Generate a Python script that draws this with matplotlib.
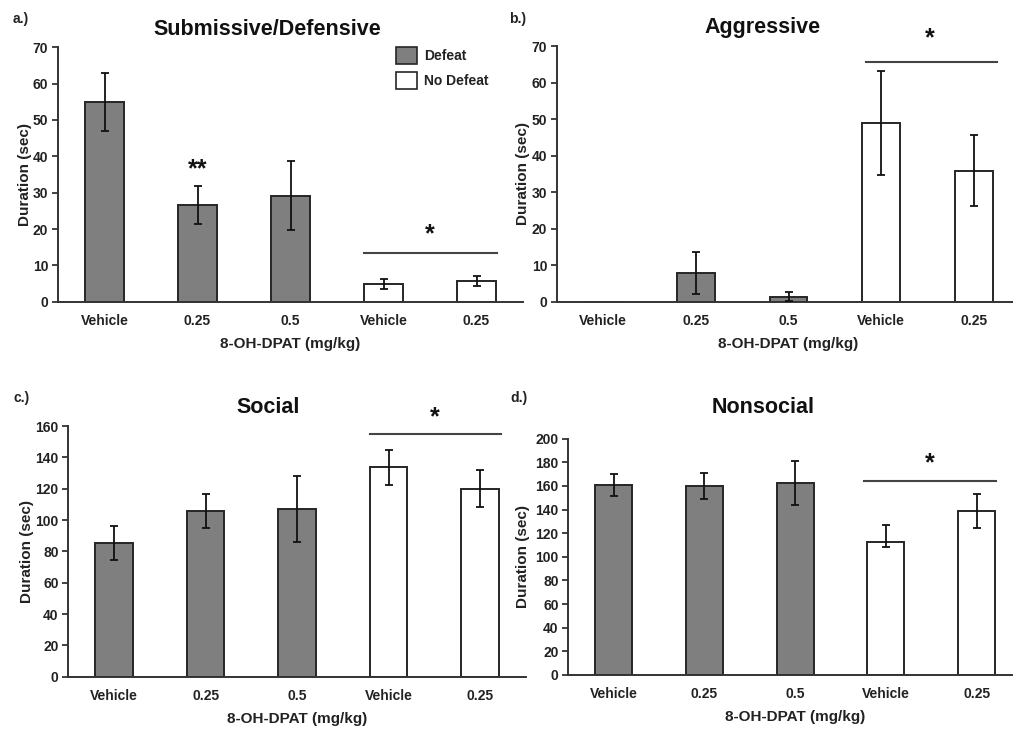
import matplotlib
matplotlib.use("Agg")
import matplotlib.pyplot as plt
from matplotlib.patches import Patch

plt.rcParams['font.family'] = ['Liberation Sans', 'DejaVu Sans']
plt.rcParams['font.weight'] = 'bold'

W, H = 1013, 729

categories = ["Vehicle", "0.25", "0.5", "Vehicle", "0.25"]
groups = ["Defeat", "Defeat", "Defeat", "No Defeat", "No Defeat"]

sub_mean = [55.0, 26.7, 29.2, 4.9, 5.8]
sub_err_lo = [8.0, 5.2, 9.6, 1.4, 1.4]
sub_err_hi = [8.0, 5.2, 9.6, 1.4, 1.4]

agg_mean = [0.0, 7.9, 1.4, 48.9, 35.9]
agg_err_lo = [0.0, 5.8, 1.3, 14.2, 9.8]
agg_err_hi = [0.0, 5.8, 1.3, 14.2, 9.8]

soc_mean = [85.3, 105.9, 107.0, 133.6, 120.0]
soc_err_lo = [10.6, 11.0, 21.0, 11.1, 11.7]
soc_err_hi = [10.6, 11.0, 21.0, 11.1, 11.7]

non_mean = [161.1, 159.9, 162.8, 112.6, 139.1]
non_err_lo = [9.3, 11.3, 18.6, 4.3, 14.5]
non_err_hi = [9.3, 11.3, 18.6, 14.3, 14.5]

colors = {"Defeat": "#7f7f7f", "No Defeat": "#ffffff"}
EDGE = "#262626"

panels = [
    dict(label="a.)", title="Submissive/Defensive", mean=sub_mean, lo=sub_err_lo, hi=sub_err_hi,
         ymax=70, ystep=10, box=(58, 523, 47.3, 301.7),
         title_xy=(267, 35), label_xy=(12.7, 23), ylab_off=-26,
         stars=[(1.0, 36.5, "**"), (3.5, 18.6, "*")], line=(2.79, 4.22, 13.3), legend=True),
    dict(label="b.)", title="Aggressive", mean=agg_mean, lo=agg_err_lo, hi=agg_err_hi,
         ymax=70, ystep=10, box=(557, 1020, 46, 301.7),
         title_xy=(762.5, 33), label_xy=(509, 23), ylab_off=-27,
         stars=[(3.53, 72.0, "*")], line=(2.84, 4.25, 65.7), legend=False),
    dict(label="c.)", title="Social", mean=soc_mean, lo=soc_err_lo, hi=soc_err_hi,
         ymax=160, ystep=20, box=(68.3, 526, 426, 676.7),
         title_xy=(268, 412.7), label_xy=(13, 401.7), ylab_off=-34,
         stars=[(3.5, 165.5, "*")], line=(2.80, 4.23, 154.9), legend=False),
    dict(label="d.)", title="Nonsocial", mean=non_mean, lo=non_err_lo, hi=non_err_hi,
         ymax=200, ystep=20, box=(568.3, 1022, 438.7, 675),
         title_xy=(763.5, 412.7), label_xy=(510, 401.7), ylab_off=-38,
         stars=[(3.48, 179.5, "*")], line=(2.76, 4.21, 164.5), legend=False),
]

fig = plt.figure(figsize=(W / 100, H / 100), dpi=100)
fig.patch.set_facecolor("white")

for p in panels:
    l, r, t, b = p["box"]
    ax = fig.add_axes([l / W, 1 - b / H, (r - l) / W, (b - t) / H])
    x = list(range(len(categories)))
    fc = [colors[g] for g in groups]
    ax.bar(x, p["mean"], width=0.41, color=fc, edgecolor=EDGE, linewidth=1.4, zorder=2)
    keep = [i for i in x if p["lo"][i] > 0 or p["hi"][i] > 0]
    ax.errorbar([x[i] for i in keep], [p["mean"][i] for i in keep],
                yerr=[[p["lo"][i] for i in keep], [p["hi"][i] for i in keep]],
                fmt="none", ecolor="#111111", elinewidth=1.3, capsize=3, capthick=1.3, zorder=3)
    ax.set_xlim(-0.5, 4.5)
    ax.set_ylim(0, p["ymax"])
    ax.set_yticks(range(0, p["ymax"] + 1, p["ystep"]))
    ax.set_xticks(x)
    ax.set_xticklabels(categories, fontsize=10, fontweight="bold", color="#222222")
    ax.tick_params(axis="x", length=0, pad=9)
    ax.tick_params(axis="y", length=4, width=1.2, direction="out", pad=3,
                   labelsize=10, colors="#222222")
    for s in ["top", "right"]:
        ax.spines[s].set_visible(False)
    for s in ["left", "bottom"]:
        ax.spines[s].set_linewidth(1.4)
        ax.spines[s].set_color("#333333")
    for lab in ax.get_yticklabels():
        lab.set_fontweight("bold")
    ax.set_ylabel("Duration (sec)", fontsize=11, fontweight="bold", color="#222222")
    ax.yaxis.set_label_coords(p["ylab_off"] / (r - l), 0.5)
    ax.set_xlabel("8-OH-DPAT (mg/kg)", fontsize=11, fontweight="bold", color="#222222")
    ax.xaxis.set_label_coords(0.5, -35 / (b - t))
    # significance
    x0, x1, yl = p["line"]
    ax.plot([x0, x1], [yl, yl], color="#444444", linewidth=1.5, clip_on=False, zorder=4)
    for sx, sy, st in p["stars"]:
        ax.text(sx, sy, st, ha="center", va="center", fontsize=18, fontweight="bold",
                color="#111111", clip_on=False)
    fig.text(p["title_xy"][0] / W, 1 - p["title_xy"][1] / H, p["title"], ha="center",
             va="baseline", fontsize=15.5, fontweight="bold", color="#111111")
    fig.text(p["label_xy"][0] / W, 1 - p["label_xy"][1] / H, p["label"], ha="left",
             va="baseline", fontsize=10, fontweight="bold", color="#222222")
    if p["legend"]:
        handles = [Patch(facecolor=colors["Defeat"], edgecolor=EDGE, linewidth=1.2, label="Defeat"),
                   Patch(facecolor=colors["No Defeat"], edgecolor=EDGE, linewidth=1.2, label="No Defeat")]
        leg = ax.legend(handles=handles, loc="upper left",
                        bbox_to_anchor=(396 / W, 1 - 47 / H), bbox_transform=fig.transFigure,
                        frameon=False, fontsize=10, handlelength=1.5, handleheight=1.5,
                        labelspacing=0.6, handletextpad=0.5, borderpad=0, borderaxespad=0)
        for tx in leg.get_texts():
            tx.set_fontweight("bold")
            tx.set_color("#222222")

fig.savefig("out.png", dpi=100, facecolor="white")
